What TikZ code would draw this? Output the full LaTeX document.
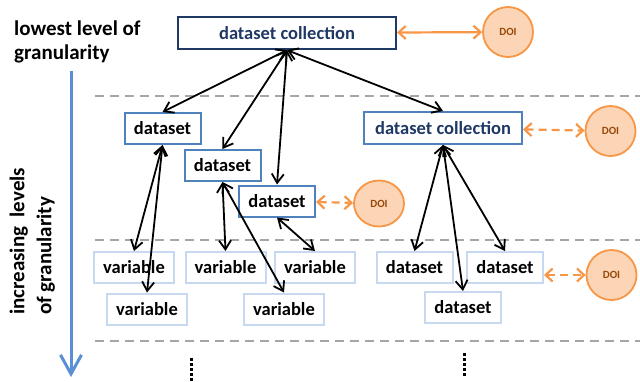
\documentclass[tikz,border=0pt]{standalone}
\usepackage{fontspec}
\setmainfont{Carlito}
\usetikzlibrary{arrows.meta,shapes.geometric}

\definecolor{navy}{HTML}{1F3864}
\definecolor{boxblue}{HTML}{4F81BD}
\definecolor{paleblue}{HTML}{C6D9F1}
\definecolor{axisblue}{HTML}{5B8FD3}
\definecolor{doiline}{HTML}{F79646}
\definecolor{doifill}{HTML}{FBD5B5}
\definecolor{doitext}{HTML}{984807}

\begin{document}
\begin{tikzpicture}[x=1pt,y=-1pt,
    box/.style={draw=boxblue,line width=2pt,inner sep=0pt,minimum width=76pt,minimum height=31pt,
                font=\fontsize{18.5}{20}\selectfont\bfseries},
    topbox/.style={box,draw=navy,line width=2.2pt,text=navy,minimum height=32pt},
    leafbox/.style={box,draw=paleblue},
    doi/.style={ellipse,draw=doiline,fill=doifill,line width=1.8pt,inner sep=0pt,
                minimum width=50pt,minimum height=50pt,text=doitext,font=\fontsize{11}{12}\selectfont\bfseries},
    link/.style={line width=1.8pt,>={Straight Barb[length=9pt,width=12pt]},<->},
    doilink/.style={doiline,line width=2.2pt,>={Straight Barb[length=7pt,width=13pt]},<->},
    level/.style={black!35,line width=1.8pt,dash pattern=on 9pt off 6pt},
    more/.style={line width=3pt,dash pattern=on 3pt off 2pt}]
    \useasboundingbox (0,0) rectangle (640,381);

    % granularity axis
    \node[anchor=north west,align=left,inner sep=0pt,font=\fontsize{21}{24}\selectfont\bfseries] (lowest) at (14,20.5) {lowest level of\\granularity};
    \node[rotate=90,anchor=north west,align=left,inner sep=0pt,font=\fontsize{21}{27}\selectfont\bfseries] (incr) at (9.5,315) {increasing\ \ levels\\of granularity};
    \coordinate (gtop) at (71,71);
    \coordinate (gend) at (71,377);
    \draw[axisblue,line width=3pt,-{Straight Barb[length=19pt,width=21pt]}] (gtop) -- (gend);

    \draw[level] (95,96) -- (640,96);
    \draw[level] (95,240) -- (640,240);
    \draw[level] (95,341) -- (640,341);

    % nodes
    \node[topbox,minimum width=218pt] (top) at (287,33) {dataset collection};
    \node[doi] (doi1) at (508,32) {DOI};

    \node[box] (dsA) at (162.5,128.5) {dataset};
    \node[box] (dsB) at (222.5,165.5) {dataset};
    \node[box] (dsC) at (277,201) {dataset};
    \node[box,text=navy,minimum width=158pt,minimum height=32pt] (coll) at (443,128) {dataset collection};
    \node[doi] (doi2) at (610.5,131) {DOI};
    \node[doi,minimum height=46pt] (doi3) at (379,203.5) {DOI};

    \node[leafbox,minimum width=80pt] (var1) at (134,267.5) {variable};
    \node[leafbox,minimum width=80pt] (var2) at (147,309) {variable};
    \node[leafbox,minimum width=80pt] (var3) at (225.5,267.5) {variable};
    \node[leafbox,minimum width=80pt] (var4) at (315,267.5) {variable};
    \node[leafbox,minimum width=80pt] (var5) at (284,309) {variable};
    \node[leafbox] (dsD) at (414.5,267.5) {dataset};
    \node[leafbox] (dsE) at (505,267.5) {dataset};
    \node[leafbox] (dsF) at (463,307.5) {dataset};
    \node[doi] (doi4) at (611.5,275) {DOI};

    % links
    \draw[link] (top.south) -- (dsA.north);
    \draw[link] (top.south) -- (dsB.north);
    \draw[link] (top.south) -- (dsC.north);
    \draw[link] (top.south) -- (coll.north);
    \draw[link] (dsA.south) -- (var1.north);
    \draw[link] (dsA.south) -- (var2.north);
    \draw[link] (dsB.south) -- (var3.north);
    \draw[link] (dsB.south) -- (var5.north);
    \draw[link] (dsC.south) -- (var4.north);
    \draw[link] (coll.south) -- (dsD.north);
    \draw[link] (coll.south) -- (dsF.north);
    \draw[link] (coll.south) -- (dsE.north);

    \draw[doilink] (top) -- (doi1);
    \draw[doilink,dash pattern=on 8pt off 5pt] (coll) -- (doi2);
    \draw[doilink,dash pattern=on 8pt off 5pt] (dsC) -- (doi3);
    \draw[doilink,dash pattern=on 8pt off 5pt] (dsE.east |- doi4) -- (doi4);

    % more levels below
    \draw[more] (191,358) -- (191,381);
    \draw[more] (464,353) -- (464,376);
\end{tikzpicture}
\end{document}
